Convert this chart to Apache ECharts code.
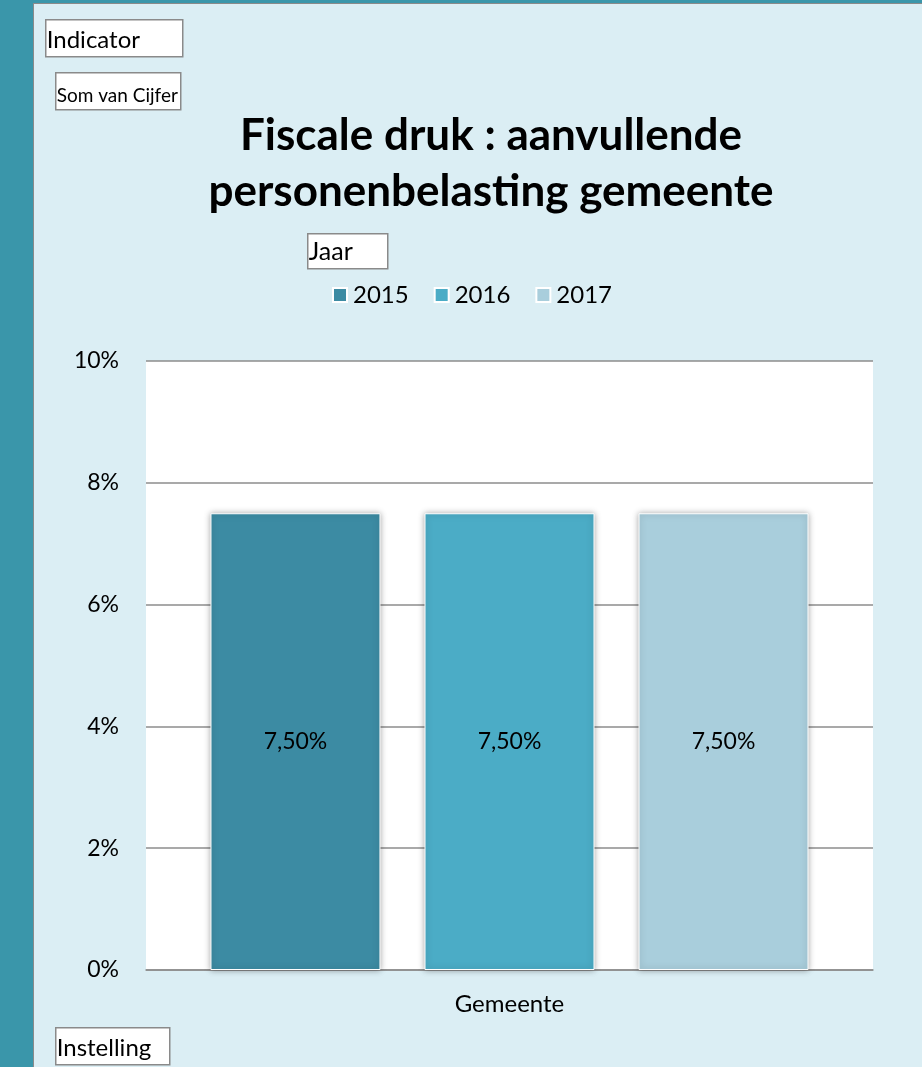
<!DOCTYPE html>
<html>
<head>
<meta charset="utf-8">
<script src="https://cdn.jsdelivr.net/npm/echarts@6/dist/echarts.min.js"></script>
<style>
html,body{margin:0;padding:0;background:#DBEEF4;}
#c{width:922px;height:1067px;}
</style>
</head>
<body>
<div id="c"></div>
<script>
const categories = ['Gemeente'];
const years = ['2015', '2016', '2017'];
const values2015 = [7.5];
const values2016 = [7.5];
const values2017 = [7.5];
const yTicks = [0, 2, 4, 6, 8, 10];
const colors = ['#3C8BA3', '#4BACC6', '#A9CEDC'];
const FONT = 'Lato';

const chart = echarts.init(document.getElementById('c'), null, {renderer: 'canvas'});

function box(x, y, w, h, text, size) {
  return {
    type: 'group', left: x, top: y,
    children: [
      {type: 'rect', shape: {x: 0, y: 0, width: w, height: h},
       style: {fill: '#fff', stroke: '#8a8a8a', lineWidth: 1.5}},
      {type: 'text', x: 1, y: h - 4,
       style: {text: text, fontFamily: FONT, fontSize: size, fill: '#000', textVerticalAlign: 'bottom', textBaseline: 'bottom'}}
    ]
  };
}

const seriesValues = [values2015, values2016, values2017];

const option = {
  backgroundColor: '#DBEEF4',
  animation: false,
  title: {
    text: 'Fiscale druk : aanvullende\npersonenbelasting gemeente',
    left: 486, top: 103, textAlign: 'center',
    textStyle: {fontFamily: FONT, fontWeight: 'bold', fontSize: 44, lineHeight: 56, color: '#000'}
  },
  legend: {
    data: years,
    left: 327, top: 278,
    itemWidth: 14, itemHeight: 14, itemGap: 25,
    icon: 'rect',
    textStyle: {fontFamily: FONT, fontSize: 24, color: '#000', padding: [0, 0, 0, 1]}
  },
  grid: {
    left: 146, right: 49, top: 361, bottom: 97,
    show: true, backgroundColor: '#fff', borderWidth: 0
  },
  xAxis: {
    type: 'category',
    data: categories,
    axisTick: {show: false},
    axisLine: {lineStyle: {color: '#8c8c8c', width: 1.5}},
    axisLabel: {fontFamily: FONT, fontSize: 24, color: '#000', margin: 22}
  },
  yAxis: {
    type: 'value',
    min: yTicks[0], max: yTicks[yTicks.length - 1], interval: 2,
    axisLine: {show: false}, axisTick: {show: false},
    splitLine: {lineStyle: {color: '#8c8c8c', width: 1.5}},
    axisLabel: {fontFamily: FONT, fontSize: 23, color: '#000', margin: 27, formatter: '{value}%'}
  },
  series: years.map((y, i) => ({
    name: y,
    type: 'bar',
    data: seriesValues[i],
    barWidth: 170,
    barGap: '25.9%',
    itemStyle: {
      color: colors[i], borderColor: '#fff', borderWidth: 1,
      shadowBlur: 6, shadowColor: 'rgba(0,0,0,0.35)', shadowOffsetX: 0, shadowOffsetY: 0
    },
    label: {
      show: true, position: 'inside',
      fontFamily: FONT, fontSize: 23, color: '#000',
      formatter: p => p.value.toFixed(2).replace('.', ',') + '%'
    }
  })),
  graphic: [
    {type: 'rect', left: 0, top: 0, shape: {width: 33, height: 1067}, style: {fill: '#3A96AA'}, z: 100},
    {type: 'rect', left: 0, top: 0, shape: {width: 922, height: 3}, style: {fill: '#3A96AA'}, z: 100},
    {type: 'rect', left: 33, top: 3, shape: {width: 1, height: 1064}, style: {fill: '#8a8a8a'}, z: 100},
    {type: 'rect', left: 33, top: 3, shape: {width: 889, height: 1}, style: {fill: '#8a8a8a'}, z: 100},
    box(45, 19, 137, 37, 'Indicator', 24),
    box(55, 72, 125, 37, 'Som van Cijfer', 19),
    box(307, 233, 80, 35, 'Jaar', 25),
    box(55, 1027, 114, 37, 'Instelling', 24)
  ]
};
chart.setOption(option);
</script>
</body>
</html>
